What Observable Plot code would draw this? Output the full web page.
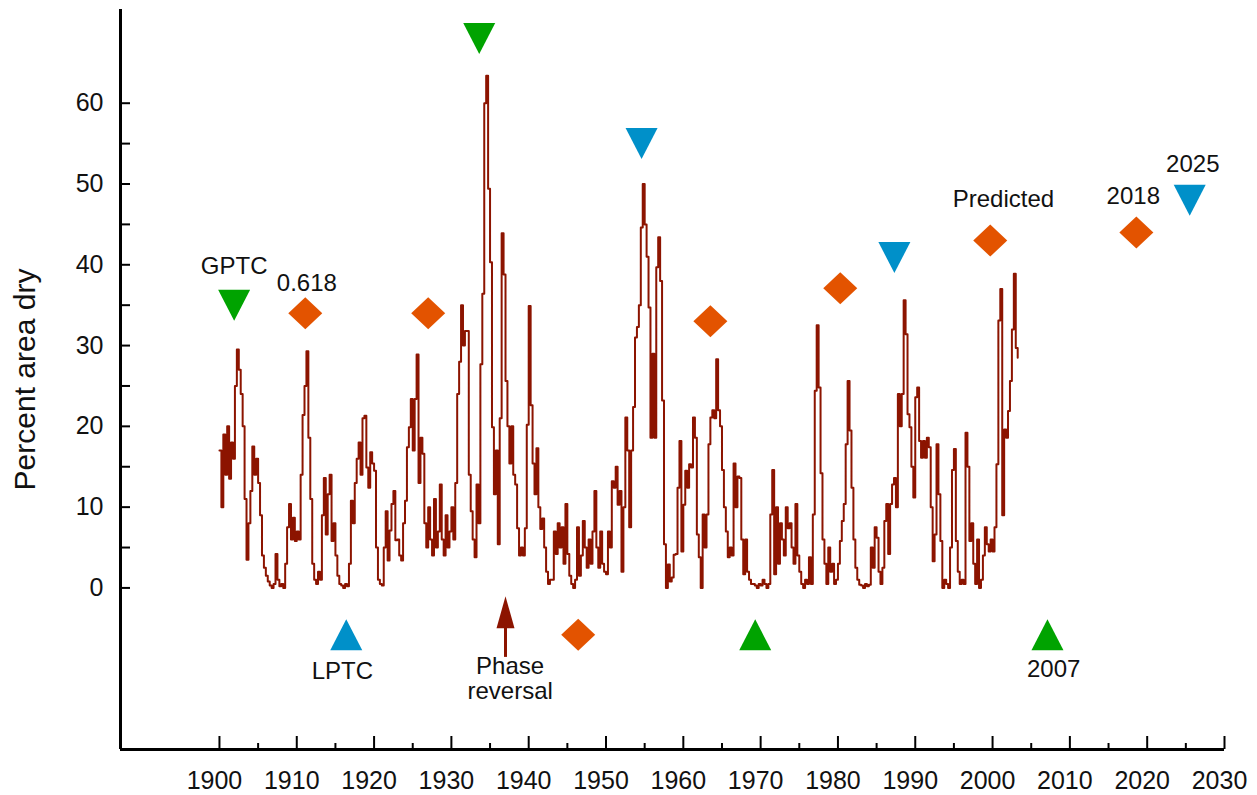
<!DOCTYPE html>
<html><head><meta charset="utf-8">
<script src="https://cdn.jsdelivr.net/npm/d3@7"></script>
<script src="https://cdn.jsdelivr.net/npm/@observablehq/plot@0.6"></script>
<style>html,body{margin:0;padding:0;background:#fff;overflow:hidden}</style>
</head><body><div id="chart"></div>
<script>
// Percent area dry, quarterly readings from 1900.0 onward
const startYear = 1900;
const percentDry = [
  17, 10, 19, 14,   20, 13.5, 18, 16,   25, 29.5, 27, 24,   20, 11, 3.5, 8,   12, 17.5, 14, 16,
  13, 9, 4, 2.5,    1.5, 0.8, 0.3, 0,   0.5, 4.2, 1, 0.2,   0.5, 0, 3, 7.5,   10.4, 6, 8.7, 5.8,
  7, 6, 14, 21.4,   25, 29.3, 18.6, 11, 3, 1, 0.5, 2,      1, 9, 13.6, 6.6,  11.6, 14, 5.8, 8,
  4, 1.5, 0.5, 0.3, 0, 0.5, 0.2, 3,    10.8, 8, 13, 16,    18, 14, 21, 21.3, 14.9, 12.4, 16.8, 15.4,
  14.5, 5, 1, 0.5,  0.3, 5, 9.5, 3.4,   7.1, 10.4, 12, 5.9, 6, 4, 3.4, 8,    10.8, 17.4, 19.9, 23.4,
  17, 23.4, 28.9, 13, 18.6, 16.6, 8, 5, 10, 6, 4, 11,      5, 7, 12.8, 6,    4, 9, 5, 7,
  10, 6, 13, 24,    28, 35, 30, 31.8,  31.8, 14, 9.5, 6,   3.8, 12.8, 8, 27.7, 36.4, 60, 63.4, 49.4,
  40.3, 19.9, 11.6, 17, 5.4, 21, 43.9, 38.8, 25.6, 20, 15.4, 20, 14, 12.8, 7.4, 4, 5, 4, 7.4, 20.2,
  34.9, 22.6, 15.4, 11.6, 17.3, 10, 7.3, 8.6, 5, 2, 0.5, 1, 1, 7, 4.2, 8,  5, 7.5, 3, 10.4,
  4.2, 1.5, 0.5, 0, 1, 7.5, 1.5, 4,    8.3, 5, 2.5, 6,     3, 7, 12, 5,      2.5, 7, 3, 2,
  1.7, 7, 5, 13.2,  12.4, 15, 10.3, 12, 2, 10, 21.1, 17,   7.5, 17, 22.4, 31, 32.3, 35, 44.6, 50,
  45, 41, 34.7, 18.6, 29, 18.6, 39.7, 43.4, 38, 23.2, 5.4, 0, 2.9, 0.8, 1.3, 4.1, 4.2, 12.4, 18.2, 4.5,
  10.3, 14.5, 12.4, 15.3, 14.9, 21.1, 18.6, 6.6, 3.8, 0, 9.1, 5, 9.1, 17.8, 21.1, 22, 21, 28.3, 22, 20,
  14.6, 10, 7, 3.8, 5, 4, 15.4, 10,    13.8, 13.6, 6, 1.7, 6, 2, 1, 0.5,     0.5, 0.3, 0, 0.5,
  0.3, 1, 0.5, 0,   0.5, 9.1, 14.6, 1.7, 10, 3, 8, 6,      4, 10, 7.4, 8,    5, 3, 10.4, 4,
  2, 0.5, 0, 1,     0.5, 3.8, 0.5, 9.1, 24.4, 32.5, 24.8, 14.2, 6, 3, 0.5, 5, 2, 3, 0.5, 1,
  3, 5.8, 8.3, 10.4, 17.8, 25.6, 19.5, 12.4, 6, 2.5, 1, 0.4, 0.3, 0, 0.5, 0.2, 0.4, 5, 2.5, 7.5,
  6.2, 2, 0.5, 2.5, 8.3, 10.4, 4.2, 10.4, 12.8, 13.6, 10, 24, 20, 24, 35.6, 31.4, 21.5, 19.9, 15, 11.2,
  23.6, 24.8, 18.2, 16.1, 18.2, 16.1, 18.6, 17.4, 10, 3.3, 6.6, 17.8, 11.6, 5.8, 0, 1, 0.5, 0, 5, 14.6,
  17.2, 5.8, 2, 0.5, 1, 0.5, 19.2, 15,  5.8, 8, 3, 0.5,    6, 0, 1, 4,       7.5, 5.4, 4.5, 6,
  4.5, 7.5, 15.3, 33.1, 37, 9, 19.6, 18.6, 21.9, 25.6, 32, 38.9, 29.7, 28.5
];
const series = percentDry.map((v, i) => ({year: startYear + i / 4, value: v}));

// Markers
const greenDown = [{year: 1901.9, value: 35.0}, {year: 1933.6, value: 68.0}];
const greenUp = [{year: 1969.3, value: -5.8}, {year: 2007.1, value: -5.8}];
const blueDown = [{year: 1954.6, value: 55.0}, {year: 1987.3, value: 40.9}, {year: 2025.5, value: 48.0}];
const blueUp = [{year: 1916.4, value: -5.8}];
const orangeDiamonds = [
  {year: 1911.1, value: 34.0}, {year: 1927.0, value: 34.0}, {year: 1946.4, value: -5.8},
  {year: 1963.5, value: 33.0}, {year: 1980.3, value: 37.1}, {year: 1999.7, value: 43.0},
  {year: 2018.6, value: 44.0}
];
const phaseArrow = [{year: 1937.0, head: -3.0, tail: -8.6}];

// Annotations
const annotations = [
  {year: 1901.9, value: 39.8, text: "GPTC"},
  {year: 1911.3, value: 37.8, text: "0.618"},
  {year: 1915.9, value: -10.3, text: "LPTC"},
  {year: 1937.6, value: -11.2, text: "Phase\nreversal"},
  {year: 2007.9, value: -10.0, text: "2007"},
  {year: 2001.4, value: 48.2, text: "Predicted"},
  {year: 2018.2, value: 48.5, text: "2018"},
  {year: 2025.9, value: 52.5, text: "2025"}
];

// Axes
const xDomain = [1887.2, 2030];
const yDomain = [-20, 71.6];
const xMajorTicks = d3.range(1900, 2031, 10);
const xMinorTicks = d3.range(1905, 2026, 10);
const yTicks = d3.range(0, 61, 5);
const yLabelTicks = d3.range(0, 61, 10);
const yTitle = "Percent area dry";

const W = 1257, H = 795;
const mL = 120, mR = 33, mT = 9, mB = 46;
const frameW = W - mL - mR, frameH = H - mT - mB;

function shape(points) {
  return {draw(ctx) {
    ctx.moveTo(points[0][0], points[0][1]);
    for (let i = 1; i < points.length; i++) ctx.lineTo(points[i][0], points[i][1]);
    ctx.closePath();
  }};
}
const triDown = shape([[-16, -15.5], [16, -15.5], [0, 15.5]]);
const triUp = shape([[-16, 15.5], [16, 15.5], [0, -15.5]]);
const diamond = shape([[0, -16], [17, 0], [0, 16], [-17, 0]]);
const arrowHead = shape([[-9, 16], [9, 16], [0, -16]]);

const GREEN = "#00a300", BLUE = "#0090c9", ORANGE = "#e35300", RED = "#8c1400";

const chart = Plot.plot({
  width: W, height: H,
  marginLeft: mL, marginRight: mR, marginTop: mT, marginBottom: mB,
  style: {fontFamily: "'Liberation Sans', Arial, sans-serif", background: "#fff", color: "#111"},
  x: {domain: xDomain, axis: null},
  y: {domain: yDomain, axis: null},
  marks: [
    Plot.line(series, {x: "year", y: "value", curve: "step-after", stroke: RED, strokeWidth: 2}),
    // axis lines and ticks
    Plot.ruleY([yDomain[0]], {stroke: "#000", strokeWidth: 3}),
    Plot.ruleX([xDomain[0]], {stroke: "#000", strokeWidth: 3}),
    Plot.tickX(xMajorTicks, {x: d => d, insetTop: frameH - 13, stroke: "#000", strokeWidth: 2}),
    Plot.tickX(xMinorTicks, {x: d => d, insetTop: frameH - 6, stroke: "#000", strokeWidth: 2}),
    Plot.tickY(yTicks, {y: d => d, insetRight: frameW - 10, stroke: "#000", strokeWidth: 2}),
    Plot.axisX({ticks: xMajorTicks, tickSize: 0, tickPadding: 22, fontSize: 25, tickFormat: d => String(d), dx: -5, label: null}),
    Plot.axisY({ticks: yLabelTicks, tickSize: 0, tickPadding: 17, fontSize: 25, tickFormat: d => String(d), label: null}),
    Plot.text([yTitle], {frameAnchor: "left", textAnchor: "middle", dx: -95, rotate: -90, fontSize: 30, text: d => d, fill: "#111"}),
    // markers
    Plot.dot(greenDown, {x: "year", y: "value", symbol: triDown, fill: GREEN, stroke: null}),
    Plot.dot(greenUp, {x: "year", y: "value", symbol: triUp, fill: GREEN, stroke: null}),
    Plot.dot(blueDown, {x: "year", y: "value", symbol: triDown, fill: BLUE, stroke: null}),
    Plot.dot(blueUp, {x: "year", y: "value", symbol: triUp, fill: BLUE, stroke: null}),
    Plot.dot(orangeDiamonds, {x: "year", y: "value", symbol: diamond, fill: ORANGE, stroke: null}),
    Plot.ruleX(phaseArrow, {x: "year", y1: "head", y2: "tail", stroke: RED, strokeWidth: 3}),
    Plot.dot(phaseArrow, {x: "year", y: "head", symbol: arrowHead, fill: RED, stroke: null}),
    // labels
    Plot.text(annotations, {x: "year", y: "value", text: "text", fontSize: 24, lineHeight: 1.05, fill: "#111"})
  ]
});
document.getElementById("chart").append(chart);
</script></body></html>
